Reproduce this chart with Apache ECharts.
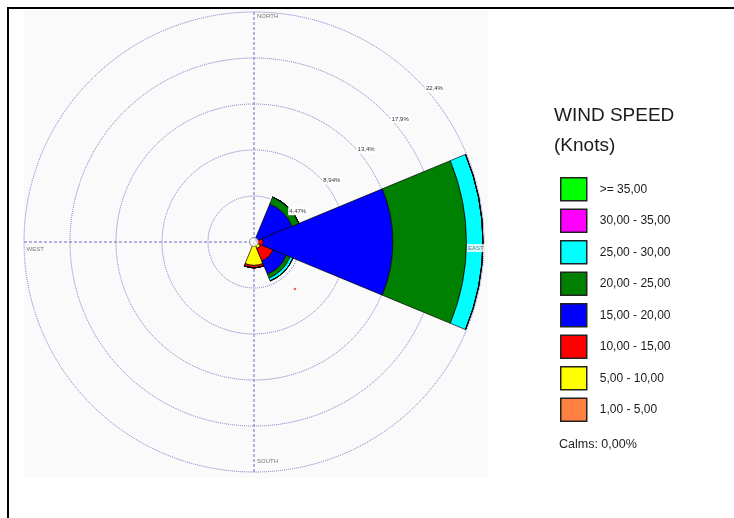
<!DOCTYPE html>
<html>
<head>
<meta charset="utf-8">
<script src="https://cdn.jsdelivr.net/npm/echarts@6/dist/echarts.min.js"></script>
<style>
html,body{margin:0;padding:0;background:#fff;}
#wrap{position:relative;width:734px;height:518px;overflow:hidden;}
#chart{position:absolute;left:0;top:0;width:734px;height:518px;}
#frame{position:absolute;left:7px;top:7px;width:740px;height:520px;border-top:2px solid #000;border-left:2px solid #000;pointer-events:none;}
</style>
</head>
<body>
<div id="wrap"><div id="chart"></div><div id="frame"></div></div>
<script>
// ---- data ----
const directions = ['N', 'NE', 'E', 'SE', 'S', 'SW', 'W', 'NW'];
const speedClasses = ['1,00 - 5,00', '5,00 - 10,00', '10,00 - 15,00', '15,00 - 20,00', '20,00 - 25,00', '25,00 - 30,00', '30,00 - 35,00', '>= 35,00'];
// frequency (%) per direction for each speed class
const freq_1_5   = [0, 0,    0,     0,   0.15, 0, 0, 0];
const freq_5_10  = [0, 0,    0,     0.7, 2.12, 0, 0, 0];
const freq_10_15 = [0, 0,    0.9,   1.3, 0.23, 0, 0, 0];
const freq_15_20 = [0, 4.0,  12.6,  1.4, 0,    0, 0, 0];
const freq_20_25 = [0, 0.73, 7.15,  0.4, 0,    0, 0, 0];
const freq_25_30 = [0, 0,    1.6,   0.3, 0,    0, 0, 0];
const freq_30_35 = [0, 0,    0,     0,   0,    0, 0, 0];
const freq_35up  = [0, 0,    0,     0,   0,    0, 0, 0];
const ringStep = 4.47;
const ringMax = 22.35;
const ringLabels = ['', '4,47%', '8,94%', '13,4%', '17,9%', '22,4%'];
const compassNames = ['NORTH', 'EAST', 'SOUTH', 'WEST'];
const calmsText = 'Calms: 0,00%';
const strayPoint = [6.05, 139];

const seriesValues = [freq_1_5, freq_5_10, freq_10_15, freq_15_20, freq_20_25, freq_25_30, freq_30_35, freq_35up];
const colors = ['#ff8040', '#ffff00', '#ff0000', '#0000ff', '#008000', '#00ffff', '#ff00ff', '#00ff00'];

const chart = echarts.init(document.getElementById('chart'), null, {renderer: 'canvas'});
const CENTER = [254, 242];
const RADIUS = 230;
const FONT = '"Liberation Sans", Arial, sans-serif';

const barSeries = seriesValues.map((vals, i) => ({
  type: 'bar',
  name: speedClasses[i],
  coordinateSystem: 'polar',
  polarIndex: 0,
  stack: 'rose',
  data: vals,
  barCategoryGap: '0%',
  barGap: '0%',
  itemStyle: {color: colors[i], borderColor: '#000', borderWidth: 0.7},
  emphasis: {disabled: true},
  z: 3
}));

const compassData = [
  {name: compassNames[0], value: [21.9, 0],   label: {position: 'right', distance: 3}},
  {name: compassNames[1], value: [21.55, 90], label: {position: 'bottom', distance: 2, backgroundColor: '#fff', padding: [1, 1]}},
  {name: compassNames[2], value: [21.3, 180], label: {position: 'right', distance: 3}},
  {name: compassNames[3], value: [22.1, 270], label: {position: 'right', distance: 0, offset: [0, 7]}}
];

const option = {
  animation: false,
  backgroundColor: '#fff',
  title: [
    {text: 'WIND SPEED\n(Knots)', left: 554, top: 101, padding: 0,
     textStyle: {fontFamily: FONT, fontSize: 19, fontWeight: 'normal', color: '#1a1a1a', lineHeight: 30}},
    {text: calmsText, left: 559, top: 438, padding: 0,
     textStyle: {fontFamily: FONT, fontSize: 12.5, fontWeight: 'normal', color: '#222'}}
  ],
  legend: {
    orient: 'vertical',
    left: 560, top: 177, padding: 0,
    itemWidth: 26, itemHeight: 23, itemGap: 7,
    icon: 'rect',
    selectedMode: false,
    data: speedClasses.slice().reverse(),
    itemStyle: {borderColor: '#222', borderWidth: 1.5},
    textStyle: {fontFamily: FONT, fontSize: 12, color: '#1a1a1a', padding: [0, 0, 0, 8]}
  },
  graphic: [
    {type: 'rect', shape: {x: 24, y: 10, width: 464, height: 468}, style: {fill: '#fafafa'}, z: -10, silent: true}
  ],
  polar: [
    {center: CENTER, radius: RADIUS},
    {center: CENTER, radius: RADIUS},
    {center: CENTER, radius: RADIUS}
  ],
  angleAxis: [
    {polarIndex: 0, type: 'category', data: directions, startAngle: 112.5, clockwise: true, boundaryGap: true,
     axisLine: {show: false}, axisTick: {show: false}, axisLabel: {show: false}, splitLine: {show: false}},
    {polarIndex: 1, type: 'value', min: 0, max: 360, startAngle: 42, show: false},
    {polarIndex: 2, type: 'value', min: 0, max: 360, interval: 90, startAngle: 90, clockwise: true,
     axisLine: {show: false}, axisTick: {show: false}, axisLabel: {show: false},
     splitLine: {show: true, lineStyle: {color: '#6a6ac4', width: 1, type: [3, 2]}}, z: 0}
  ],
  radiusAxis: [
    {polarIndex: 0, type: 'value', min: 0, max: ringMax, show: false},
    {polarIndex: 1, type: 'value', min: 0, max: ringMax, interval: ringStep, z: 6,
     axisLine: {show: false}, axisTick: {show: false}, splitLine: {show: false},
     axisLabel: {show: true, margin: 0, align: 'left', verticalAlign: 'middle',
       fontFamily: FONT, fontSize: 6, color: '#333', backgroundColor: '#fff', padding: [1, 1],
       formatter: (v, idx) => ringLabels[Math.round(v / ringStep)] || ''}},
    {polarIndex: 2, type: 'value', min: 0, max: ringMax, interval: ringStep, z: 0,
     axisLine: {show: false}, axisTick: {show: false}, axisLabel: {show: false},
     splitLine: {show: true, lineStyle: {color: '#7474c8', width: 1, type: 'dotted'}}}
  ],
  series: barSeries.concat([
    {type: 'scatter', coordinateSystem: 'polar', polarIndex: 2, symbolSize: 0, z: 8, silent: true,
     data: compassData,
     label: {show: true, formatter: '{b}', fontFamily: FONT, fontSize: 6, color: '#555'}},
    {type: 'scatter', coordinateSystem: 'polar', polarIndex: 2, symbol: 'circle', symbolSize: 9, z: 9, silent: true,
     data: [[0, 0]], itemStyle: {color: '#fff', borderColor: '#555', borderWidth: 0.8}},
    {type: 'scatter', coordinateSystem: 'polar', polarIndex: 2, symbol: 'circle', symbolSize: 2.5, z: 9, silent: true,
     data: [strayPoint], itemStyle: {color: '#ff3030'}}
  ])
};
chart.setOption(option);
</script>
</body>
</html>
